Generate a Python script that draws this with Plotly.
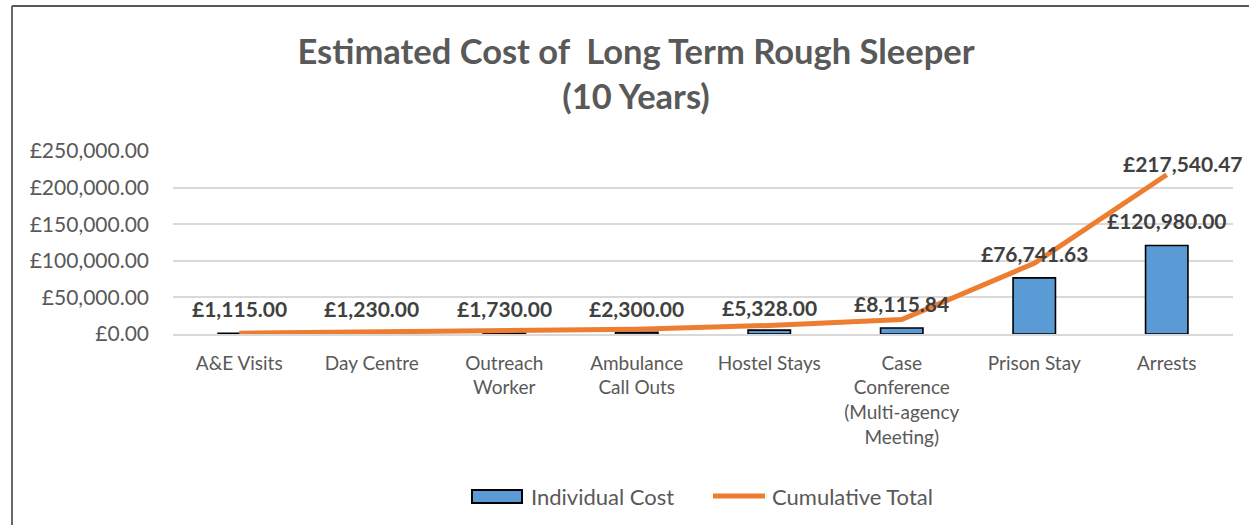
import plotly.graph_objects as go

categories = ["A&E Visits", "Day Centre", "Outreach<br>Worker", "Ambulance<br>Call Outs",
              "Hostel Stays", "Case<br>Conference<br>(Multi-agency<br>Meeting)", "Prison Stay", "Arrests"]
individual_cost = [1115.00, 1230.00, 1730.00, 2300.00, 5328.00, 8115.84, 76741.63, 120980.00]
cumulative_total = [1115.00, 2345.00, 4075.00, 6375.00, 11703.00, 19818.84, 96560.47, 217540.47]
y_ticks = [0, 50000, 100000, 150000, 200000, 250000]
series_names = ["Individual Cost", "Cumulative Total"]

FONT = "Lato"
GREY = "#595959"
LABEL = "#404040"
BLUE = "#5B9BD5"
ORANGE = "#ED7D31"

# plot-area geometry (pixels)
W, H = 1249, 525
L, R, T, B = 173, 1233, 151, 334
PW, PH = R - L, B - T


def px(x):
    return (x - L) / PW


def py(y):
    return (B - y) / PH


fig = go.Figure()
fig.add_trace(go.Bar(
    x=categories, y=individual_cost, name=series_names[0],
    marker=dict(color=BLUE, line=dict(color="black", width=1.6)),
    width=0.32, showlegend=False,
))
fig.add_trace(go.Scatter(
    x=categories, y=cumulative_total, name=series_names[1], mode="lines",
    line=dict(color=ORANGE, width=5), showlegend=False,
))

# data-label vertical placement (layout, in axis units)
label_y = [34300, 34300, 34300, 34300, 36000, 41200, 109900, 155200]
for c, v, ly in zip(categories, individual_cost, label_y):
    fig.add_annotation(x=c, y=ly, text="£{:,.2f}".format(v), showarrow=False,
                       font=dict(family=FONT, size=21, color=LABEL, weight="bold"),
                       xanchor="center", yanchor="middle")
fig.add_annotation(x=categories[-1], y=233500, text="£{:,.2f}".format(cumulative_total[-1]),
                   showarrow=False, xshift=16,
                   font=dict(family=FONT, size=21, color=LABEL, weight="bold"),
                   xanchor="center", yanchor="middle")

# manual legend
shapes = [
    dict(type="rect", xref="paper", yref="paper", x0=px(472), x1=px(522), y0=py(490), y1=py(503),
         fillcolor=BLUE, line=dict(color="black", width=2)),
    dict(type="line", xref="paper", yref="paper", x0=px(713), x1=px(765), y0=py(496), y1=py(496),
         line=dict(color=ORANGE, width=5)),
    # chart frame
    dict(type="line", xref="paper", yref="paper", x0=px(12), x1=px(12), y0=py(6), y1=py(540),
         line=dict(color=GREY, width=1.8)),
    dict(type="line", xref="paper", yref="paper", x0=px(12), x1=px(1260), y0=py(6), y1=py(6),
         line=dict(color=GREY, width=1.8)),
]
fig.add_annotation(xref="paper", yref="paper", x=px(529), y=py(496), text=series_names[0],
                   showarrow=False, xanchor="left", yanchor="middle",
                   font=dict(family=FONT, size=22, color=GREY))
fig.add_annotation(xref="paper", yref="paper", x=px(770), y=py(496), text=series_names[1],
                   showarrow=False, xanchor="left", yanchor="middle",
                   font=dict(family=FONT, size=22, color=GREY))

fig.update_layout(
    width=W, height=H,
    margin=dict(l=L, r=W - R, t=T, b=H - B, autoexpand=False),
    paper_bgcolor="white", plot_bgcolor="white",
    title=dict(text="Estimated Cost of  Long Term Rough Sleeper<br>(10 Years)",
               x=636 / W, xanchor="center", y=1 - 64 / H, yanchor="top",
               font=dict(family=FONT, size=34.5, color=GREY, weight="bold")),
    font=dict(family=FONT, color=GREY),
    showlegend=False,
    xaxis=dict(range=[-0.5, len(categories) - 0.5], autorange=False,
               showgrid=False, showline=True, linecolor="#D9D9D9", linewidth=1.5,
               tickfont=dict(family=FONT, size=19, color=GREY), ticks="",
               ticklabelstandoff=11, tickangle=0, automargin=False),
    yaxis=dict(range=[0, 250000], tickvals=y_ticks,
               ticktext=["£{:,.2f}".format(t) for t in y_ticks],
               showgrid=True, gridcolor="#D9D9D9", gridwidth=1.5,
               zeroline=False, showline=False,
               tickfont=dict(family=FONT, size=21, color=GREY), ticks="",
               ticklabelstandoff=23, automargin=False),
    shapes=shapes,
)

fig.write_html("out.html", config={"displayModeBar": False},
               post_script="document.body.style.margin='0';")
